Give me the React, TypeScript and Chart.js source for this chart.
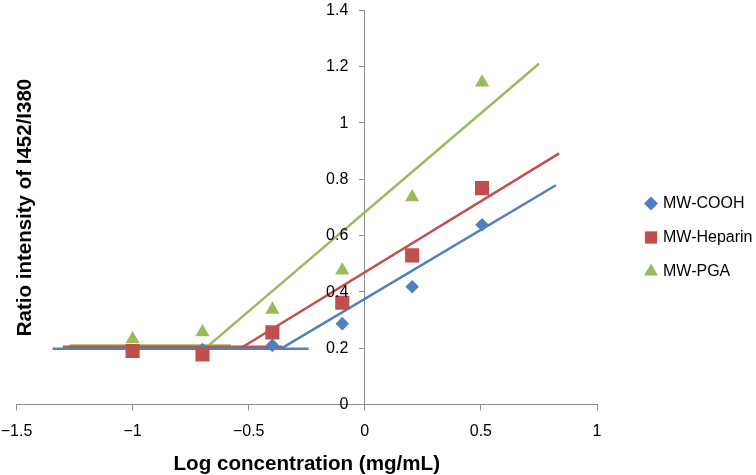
import React, { useEffect, useRef } from "react";
import { Chart, registerables } from "chart.js";
import { drawPoint } from "chart.js/helpers";

Chart.register(...registerables);

// ---- data ----
const X_VALUES = [-1, -0.699, -0.398, -0.097, 0.204, 0.505];
const COOH = [0.19, 0.195, 0.21, 0.287, 0.418, 0.638];
const HEPARIN = [0.19, 0.178, 0.256, 0.361, 0.529, 0.768];
const PGA = [0.232, 0.257, 0.337, 0.476, 0.736, 1.143];

const SERIES_NAMES = ["MW-COOH", "MW-Heparin", "MW-PGA"];

// trend lines (end points)
const COOH_FLAT_X = [-1.345, -0.242];
const COOH_FLAT_Y = [0.198, 0.198];
const COOH_FIT_X = [-0.355, 0.823];
const COOH_FIT_Y = [0.201, 0.778];
const HEP_FLAT_X = [-1.3, -0.355];
const HEP_FLAT_Y = [0.205, 0.205];
const HEP_FIT_X = [-0.526, 0.837];
const HEP_FIT_Y = [0.204, 0.891];
const PGA_FLAT_X = [-1.272, -0.576];
const PGA_FLAT_Y = [0.209, 0.209];
const PGA_FIT_X = [-0.676, 0.75];
const PGA_FIT_Y = [0.207, 1.209];

const X_MIN = -1.5;
const X_MAX = 1;
const X_STEP = 0.5;
const Y_MIN = 0;
const Y_MAX = 1.4;
const Y_STEP = 0.2;

const X_TITLE = "Log concentration (mg/mL)";
const Y_TITLE = "Ratio intensity of I452/I380";

const BLUE = "#4F81BD";
const RED = "#C0504D";
const GREEN = "#9BBB59";
const AXIS = "#8c8c8c";
const FONT = "'Liberation Sans', Arial, sans-serif";

const fmt = (v: number) => String(Number(v.toFixed(2))).replace("-", "\u2212");

const pts = (xs: number[], ys: number[]) => xs.map((x, i) => ({ x, y: ys[i] }));

const lineDs = (xs: number[], ys: number[], color: string) => ({
  type: "scatter" as const,
  data: pts(xs, ys),
  showLine: true,
  borderColor: color,
  backgroundColor: color,
  borderWidth: 2.5,
  pointRadius: 0,
  pointHoverRadius: 0,
  order: 10,
  isTrend: true,
});

const yTitlePlugin = {
  id: "yTitle",
  afterDraw(chart: any) {
    const ctx = chart.ctx;
    ctx.save();
    ctx.translate(25, 207.5);
    ctx.rotate(-Math.PI / 2);
    ctx.font = `bold 20.5px ${FONT}`;
    ctx.fillStyle = "#000";
    ctx.textAlign = "center";
    ctx.textBaseline = "middle";
    ctx.fillText(Y_TITLE, 0, 0);
    ctx.restore();
  },
};

// y tick labels placed to the left of the crossing y axis
const yLabelsPlugin = {
  id: "yLabels",
  afterDraw(chart: any) {
    const ctx = chart.ctx;
    const xs = chart.scales.x;
    const ys = chart.scales.y;
    const ax = xs.getPixelForValue(0);
    ctx.save();
    ctx.font = `16px ${FONT}`;
    ctx.fillStyle = "#000";
    ctx.textAlign = "right";
    ctx.textBaseline = "middle";
    ys.ticks.forEach((t: any) => {
      ctx.fillText(fmt(t.value), ax - 16.5, ys.getPixelForValue(t.value) + 0.5);
    });
    ctx.restore();
  },
};

const legendPlugin = {
  id: "customLegend",
  afterDraw(chart: any) {
    const ctx = chart.ctx;
    const items = chart.data.datasets.filter((d: any) => !d.isTrend);
    const sizes = [7, 8.7, 8];
    ctx.save();
    items.forEach((d: any, i: number) => {
      const y = 203.5 + i * 34;
      ctx.fillStyle = d.backgroundColor;
      ctx.strokeStyle = d.backgroundColor;
      drawPoint(ctx, { pointStyle: d.pointStyle, radius: sizes[i], borderWidth: 0, rotation: 0 } as any, 651, y);
      ctx.fillStyle = "#000";
      ctx.font = `16px ${FONT}`;
      ctx.textAlign = "left";
      ctx.textBaseline = "middle";
      ctx.fillText(d.label, 663, y);
    });
    ctx.restore();
  },
};

export default function App() {
  const ref = useRef<HTMLCanvasElement>(null);

  useEffect(() => {
    if (!ref.current) return;
    const chart = new Chart(ref.current, {
      type: "scatter",
      data: {
        datasets: [
          {
            label: SERIES_NAMES[0],
            data: pts(X_VALUES, COOH),
            pointStyle: "rectRot",
            pointRadius: 6.8,
            backgroundColor: BLUE,
            borderColor: BLUE,
            borderWidth: 0,
            order: 3,
          },
          {
            label: SERIES_NAMES[1],
            data: pts(X_VALUES, HEPARIN),
            pointStyle: "rect",
            pointRadius: 10,
            backgroundColor: RED,
            borderColor: RED,
            borderWidth: 0,
            order: 2,
          },
          {
            label: SERIES_NAMES[2],
            data: pts(X_VALUES, PGA),
            pointStyle: "triangle",
            pointRadius: 8.2,
            backgroundColor: GREEN,
            borderColor: GREEN,
            borderWidth: 0,
            order: 1,
          },
          lineDs(COOH_FLAT_X, COOH_FLAT_Y, BLUE),
          lineDs(COOH_FIT_X, COOH_FIT_Y, BLUE),
          lineDs(HEP_FLAT_X, HEP_FLAT_Y, RED),
          lineDs(HEP_FIT_X, HEP_FIT_Y, RED),
          lineDs(PGA_FLAT_X, PGA_FLAT_Y, GREEN),
          lineDs(PGA_FIT_X, PGA_FIT_Y, GREEN),
        ] as any,
      },
      options: {
        animation: false,
        responsive: false,
        devicePixelRatio: 1,
        layout: { padding: { left: 16.5, right: 159, top: 4, bottom: 0 } },
        plugins: {
          legend: { display: false },
          tooltip: { enabled: false },
        },
        scales: {
          x: {
            type: "linear",
            position: "bottom",
            min: X_MIN,
            max: X_MAX,
            afterFit: (s: any) => {
              s.paddingLeft = 0;
              s.paddingRight = 0;
              s.height = 70.5;
            },
            ticks: {
              stepSize: X_STEP,
              color: "#000",
              font: { family: FONT, size: 16 },
              padding: 11,
              maxRotation: 0,
              callback: (v: any) => fmt(Number(v)),
            },
            grid: { drawOnChartArea: false, drawTicks: true, tickLength: 6, color: AXIS, lineWidth: 1 },
            border: { display: true, color: AXIS, width: 1 },
            title: {
              display: true,
              text: X_TITLE,
              color: "#000",
              font: { family: FONT, size: 20.6, weight: "bold", lineHeight: 1 },
              padding: { top: 8, bottom: 0 },
            },
          },
          y: {
            type: "linear",
            position: { x: 0 } as any,
            min: Y_MIN,
            max: Y_MAX,
            afterFit: (s: any) => {
              s.paddingTop = 0;
              s.paddingBottom = 0;
            },
            ticks: {
              stepSize: Y_STEP,
              display: false,
            },
            grid: { drawOnChartArea: false, drawTicks: true, tickLength: 5, color: AXIS, lineWidth: 1 },
            border: { display: true, color: AXIS, width: 1 },
          },
        },
      },
      plugins: [yTitlePlugin, yLabelsPlugin, legendPlugin],
    });
    return () => chart.destroy();
  }, []);

  return (
    <div style={{ position: "fixed", left: 0, top: 0, width: 756, height: 475, background: "#fff" }}>
      <canvas ref={ref} width={756} height={475} />
    </div>
  );
}
